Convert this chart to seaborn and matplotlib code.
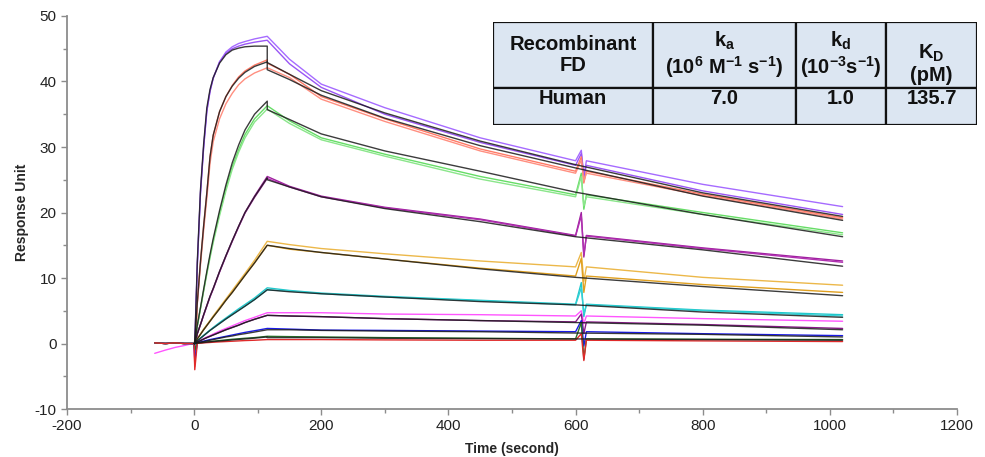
import numpy as np
import pandas as pd
import matplotlib
matplotlib.use("Agg")
import matplotlib.pyplot as plt
import seaborn as sns
from matplotlib.ticker import MultipleLocator
from matplotlib.patches import Rectangle

# ---------------- data ----------------
T_PRE = [-62, -45, -30, -15, -2]
T_ASSOC = [0, 1, 5, 10, 15, 20, 25, 30, 40, 50, 60, 70, 80, 95, 115]
T_DISS = [115, 150, 200, 300, 450, 600, 800, 1020]
T_SPIKE = [609, 613, 617]

violet_a_assoc = [0, -0.5, 12, 23, 30, 35.5, 38.5, 40.5, 43.0, 44.5, 45.3, 45.8, 46.1, 46.5, 46.9]
violet_a_diss = [46.9, 43.4, 39.6, 36.0, 31.4, 27.9, 24.3, 20.9]
violet_b_assoc = [0, -0.5, 12, 23, 30, 35.5, 38.5, 40.5, 43.0, 44.3, 45.0, 45.4, 45.7, 46.0, 46.3]
violet_b_diss = [46.3, 42.7, 39.1, 35.0, 30.7, 27.2, 23.3, 19.7]
violet_fit_assoc = [0, 0, 12.5, 23.5, 30.5, 36.0, 38.8, 40.6, 42.8, 44.1, 44.8, 45.1, 45.3, 45.4, 45.4]
violet_fit_diss = [42.9, 41.1, 38.6, 35.2, 30.9, 27.3, 23.0, 19.4]

red_a_assoc = [0, -3.5, 6.3, 12.5, 18, 23, 28.5, 31.8, 35.4, 37.7, 39.4, 40.7, 41.6, 42.5, 43.3]
red_a_diss = [42.8, 41.1, 37.7, 34.3, 29.7, 26.3, 22.8, 19.2]
red_b_assoc = [0, -3, 6.0, 12.0, 17.3, 22.2, 27.5, 30.8, 34.3, 36.6, 38.2, 39.5, 40.4, 41.3, 42.1]
red_b_diss = [42.1, 40.6, 37.3, 33.9, 29.4, 26.0, 22.6, 19.0]
red_fit_assoc = [0, 0, 6.3, 12.5, 18, 23, 28.5, 31.8, 35.4, 37.7, 39.3, 40.5, 41.4, 42.3, 43.0]
red_fit_diss = [41.8, 40.3, 37.9, 34.4, 30.2, 26.8, 22.5, 18.8]

green_a_assoc = [0, -1, 2.7, 5.4, 8.1, 10.8, 13.3, 15.7, 19.9, 23.7, 27.0, 29.6, 31.9, 34.3, 36.3]
green_a_diss = [36.3, 34.0, 31.4, 28.9, 25.5, 22.7, 20.0, 16.9]
green_b_assoc = [0, -1, 2.6, 5.3, 8.0, 10.6, 13.1, 15.4, 19.5, 23.3, 26.6, 29.2, 31.4, 33.8, 35.8]
green_b_diss = [35.8, 33.6, 31.1, 28.6, 25.1, 22.4, 19.7, 16.6]
green_fit_assoc = [0, 0, 2.8, 5.5, 8.3, 11.0, 13.6, 16.0, 20.3, 24.2, 27.6, 30.3, 32.6, 35.0, 37.0]
green_fit_diss = [35.7, 34.2, 32.0, 29.4, 26.3, 23.1, 19.7, 16.3]

magenta_a_assoc = [0, -1, 1.5, 2.9, 4.4, 5.8, 7.2, 8.4, 11.0, 13.4, 15.7, 17.9, 20.0, 22.5, 25.5]
magenta_a_diss = [25.5, 24.0, 22.5, 20.8, 19.0, 16.5, 14.6, 12.6]
magenta_b_assoc = [0, -1.5, 1.5, 2.9, 4.3, 5.7, 7.1, 8.3, 10.9, 13.3, 15.6, 17.8, 19.9, 22.3, 25.2]
magenta_b_diss = [25.2, 23.9, 22.4, 20.7, 18.9, 16.4, 14.5, 12.4]
magenta_fit_assoc = [0, 0, 1.5, 2.9, 4.4, 5.8, 7.2, 8.4, 11.0, 13.4, 15.7, 17.9, 20.0, 22.4, 25.3]
magenta_fit_diss = [25.0, 23.9, 22.4, 20.6, 18.6, 16.3, 14.3, 11.8]

orange_a_assoc = [0, 0.5, 0.7, 1.45, 2.2, 2.85, 3.5, 4.2, 5.5, 6.8, 8.1, 9.4, 10.7, 12.7, 15.6]
orange_a_diss = [15.6, 15.1, 14.5, 13.7, 12.6, 11.7, 10.1, 8.9]
orange_b_assoc = [0, 0.3, 0.7, 1.4, 2.1, 2.75, 3.4, 4.05, 5.3, 6.6, 7.8, 9.1, 10.4, 12.3, 15.0]
orange_b_diss = [15.0, 14.4, 13.9, 12.9, 11.5, 10.3, 9.0, 7.8]
orange_fit_assoc = [0, 0, 0.7, 1.4, 2.1, 2.75, 3.4, 4.05, 5.3, 6.6, 7.8, 9.1, 10.4, 12.3, 15.0]
orange_fit_diss = [15.0, 14.5, 13.9, 12.9, 11.4, 10.1, 8.7, 7.3]

cyan_a_assoc = [0, -1, 0.42, 0.84, 1.25, 1.65, 2.05, 2.45, 3.2, 3.9, 4.6, 5.3, 5.95, 6.95, 8.5]
cyan_a_diss = [8.5, 8.1, 7.7, 7.2, 6.6, 6.0, 5.1, 4.4]
cyan_b_assoc = [0, -1, 0.4, 0.8, 1.2, 1.6, 2.0, 2.35, 3.05, 3.75, 4.4, 5.05, 5.7, 6.7, 8.2]
cyan_b_diss = [8.2, 8.0, 7.6, 7.1, 6.5, 5.9, 5.0, 4.2]
cyan_fit_assoc = [0, 0, 0.4, 0.8, 1.2, 1.6, 2.0, 2.35, 3.05, 3.75, 4.4, 5.05, 5.7, 6.7, 8.2]
cyan_fit_diss = [8.2, 7.9, 7.6, 7.1, 6.4, 5.9, 4.8, 4.0]

pink_pre = [-1.5, -1.0, -0.6, -0.3, 0]
pink_assoc = [0, -3, 0.25, 0.5, 0.75, 1.0, 1.2, 1.45, 1.9, 2.3, 2.7, 3.1, 3.5, 4.0, 4.7]
pink_diss = [4.7, 4.7, 4.7, 4.5, 4.4, 4.2, 3.8, 3.4]
dpurple_assoc = [0, -1, 0.22, 0.45, 0.68, 0.9, 1.1, 1.3, 1.7, 2.1, 2.45, 2.8, 3.2, 3.7, 4.3]
dpurple_diss = [4.3, 4.2, 4.1, 3.8, 3.5, 3.3, 2.9, 2.3]
low4_fit_assoc = [0, 0, 0.22, 0.45, 0.68, 0.9, 1.1, 1.3, 1.7, 2.1, 2.45, 2.8, 3.2, 3.7, 4.3]
low4_fit_diss = [4.3, 4.2, 4.1, 3.8, 3.5, 3.2, 2.8, 2.1]

blue_assoc = [0, -2.5, 0.12, 0.24, 0.36, 0.48, 0.6, 0.7, 0.9, 1.1, 1.3, 1.5, 1.7, 1.95, 2.3]
blue_diss = [2.3, 2.2, 2.05, 2.0, 1.9, 1.8, 1.5, 1.2]
blue_fit_assoc = [0, 0, 0.1, 0.2, 0.3, 0.4, 0.5, 0.6, 0.8, 1.0, 1.15, 1.35, 1.5, 1.75, 2.1]
blue_fit_diss = [2.1, 2.1, 2.0, 1.9, 1.8, 1.6, 1.4, 1.0]

dgreen_assoc = [0, -1, 0.06, 0.12, 0.18, 0.24, 0.3, 0.35, 0.45, 0.55, 0.65, 0.72, 0.8, 0.9, 1.1]
dgreen_diss = [1.1, 1.05, 1.0, 0.9, 0.8, 0.7, 0.65, 0.6]
red2_assoc = [0, -4, 0.03, 0.06, 0.1, 0.13, 0.16, 0.2, 0.25, 0.3, 0.35, 0.4, 0.45, 0.5, 0.6]
red2_diss = [0.6, 0.6, 0.6, 0.55, 0.5, 0.5, 0.4, 0.3]
low_fit_assoc = [0, 0, 0.05, 0.1, 0.15, 0.2, 0.25, 0.3, 0.38, 0.46, 0.55, 0.63, 0.7, 0.82, 1.0]
low_fit_diss = [0.9, 0.9, 0.9, 0.8, 0.75, 0.7, 0.6, 0.5]

flat_pre = [0.1, 0.0, 0.1, 0.0, 0]

# spike (high, low) near t = 610 s for each measured trace
spikes = {
    "violet_a": (29.5, 25.5), "violet_b": (29.0, 25.5),
    "red_a": (28.5, 24.5), "red_b": (28.0, 24.8),
    "green_a": (26.0, 20.5), "green_b": (25.5, 21.0),
    "magenta_a": (20.0, 13.2), "magenta_b": (19.5, 13.5),
    "orange_a": (13.9, 9.5), "orange_b": (13.0, 7.8),
    "cyan_a": (9.3, 4.1), "cyan_b": (8.5, 4.5),
    "pink": (5.0, 3.0), "dpurple": (4.5, 1.5),
    "blue": (3.5, -0.4), "dgreen": (3.2, -2.4), "red2": (1.5, -2.6),
}

colors = {
    "violet_a": "#a66bff", "violet_b": "#9a55f5",
    "red_a": "#ff7a66", "red_b": "#ff8f80",
    "green_a": "#66dd66", "green_b": "#8be68b",
    "magenta_a": "#a020a0", "magenta_b": "#b030b0",
    "orange_a": "#ecb84a", "orange_b": "#e0a020",
    "cyan_a": "#22c8cc", "cyan_b": "#33d0d4",
    "pink": "#ff55ff", "dpurple": "#8a1a8a",
    "blue": "#1a1ae6", "dgreen": "#2a6e2a", "red2": "#e02a2a",
}

data_traces = {
    "violet_a": (flat_pre, violet_a_assoc, violet_a_diss),
    "violet_b": (flat_pre, violet_b_assoc, violet_b_diss),
    "red_a": (flat_pre, red_a_assoc, red_a_diss),
    "red_b": (flat_pre, red_b_assoc, red_b_diss),
    "green_a": (flat_pre, green_a_assoc, green_a_diss),
    "green_b": (flat_pre, green_b_assoc, green_b_diss),
    "magenta_a": (flat_pre, magenta_a_assoc, magenta_a_diss),
    "magenta_b": (flat_pre, magenta_b_assoc, magenta_b_diss),
    "orange_a": (flat_pre, orange_a_assoc, orange_a_diss),
    "orange_b": (flat_pre, orange_b_assoc, orange_b_diss),
    "cyan_a": (flat_pre, cyan_a_assoc, cyan_a_diss),
    "cyan_b": (flat_pre, cyan_b_assoc, cyan_b_diss),
    "pink": (pink_pre, pink_assoc, pink_diss),
    "dpurple": (flat_pre, dpurple_assoc, dpurple_diss),
    "blue": (flat_pre, blue_assoc, blue_diss),
    "dgreen": (flat_pre, dgreen_assoc, dgreen_diss),
    "red2": (flat_pre, red2_assoc, red2_diss),
}

fit_traces = {
    "violet_fit": (violet_fit_assoc, violet_fit_diss),
    "red_fit": (red_fit_assoc, red_fit_diss),
    "green_fit": (green_fit_assoc, green_fit_diss),
    "magenta_fit": (magenta_fit_assoc, magenta_fit_diss),
    "orange_fit": (orange_fit_assoc, orange_fit_diss),
    "cyan_fit": (cyan_fit_assoc, cyan_fit_diss),
    "low4_fit": (low4_fit_assoc, low4_fit_diss),
    "blue_fit": (blue_fit_assoc, blue_fit_diss),
    "low_fit": (low_fit_assoc, low_fit_diss),
}

# ---------------- build long tables ----------------
rows = []
for name, (pre, assoc, diss) in data_traces.items():
    hi, lo = spikes[name]
    ts = list(T_PRE) + list(T_ASSOC) + list(T_DISS[:6]) + list(T_SPIKE) + list(T_DISS[6:])
    vs = list(pre) + list(assoc) + list(diss[:6]) + [hi, lo, diss[5]] + list(diss[6:])
    for t, v in zip(ts, vs):
        rows.append((name, t, v))
df_data = pd.DataFrame(rows, columns=["trace", "t", "ru"])

rows = []
for name, (assoc, diss) in fit_traces.items():
    ts = list(T_ASSOC) + list(T_DISS)
    vs = list(assoc) + list(diss)
    for t, v in zip(ts, vs):
        rows.append((name, t, v))
df_fit = pd.DataFrame(rows, columns=["trace", "t", "ru"])

# ---------------- plot ----------------
sns.set_theme(style="white")
plt.rcParams["font.family"] = ["Liberation Sans", "DejaVu Sans"]
plt.rcParams["axes.unicode_minus"] = False
plt.rcParams["mathtext.fontset"] = "custom"
plt.rcParams["mathtext.bf"] = "Liberation Sans:bold"
plt.rcParams["mathtext.rm"] = "Liberation Sans:bold"
plt.rcParams["mathtext.default"] = "bf"

fig = plt.figure(figsize=(9.85, 4.57), dpi=100)
ax = fig.add_axes([0.068, 0.105, 0.9036, 0.86])

sns.lineplot(data=df_data, x="t", y="ru", hue="trace", palette=colors,
             hue_order=list(data_traces.keys()), estimator=None, sort=False,
             legend=False, linewidth=1.0, ax=ax)
sns.lineplot(data=df_fit, x="t", y="ru", units="trace", color="#1a1a1a",
             estimator=None, sort=False, legend=False, linewidth=1.0,
             alpha=0.85, ax=ax)

ax.set_xlim(-200, 1200)
ax.set_ylim(-10, 50)
ax.xaxis.set_major_locator(MultipleLocator(200))
ax.xaxis.set_minor_locator(MultipleLocator(100))
ax.yaxis.set_major_locator(MultipleLocator(10))
ax.yaxis.set_minor_locator(MultipleLocator(5))
for s in ["top", "right"]:
    ax.spines[s].set_visible(False)
for s in ["left", "bottom"]:
    ax.spines[s].set_color("#8c8c8c")
    ax.spines[s].set_linewidth(1.3)
ax.tick_params(which="major", direction="out", length=4, width=1, color="#8c8c8c",
               labelsize=11, labelcolor="#222222", bottom=True, left=True)
ax.tick_params(which="minor", direction="out", length=3, width=1, color="#8c8c8c",
               bottom=True, left=True)
ax.set_xlabel("Time (second)", fontsize=10, fontweight="bold", labelpad=6)
ax.set_ylabel("Response Unit", fontsize=10, fontweight="bold", labelpad=4)

# ---------------- table ----------------
col_px = [160, 143, 90, 91]
row_px = [66, 37]
tab = fig.add_axes([493 / 985, 1 - 125 / 457, 484 / 985, 103 / 457])
tab.set_xlim(0, sum(col_px))
tab.set_ylim(sum(row_px), 0)
tab.axis("off")
header = ["Recombinant\nFD", "k$_{a}$\n(10$^{6}$ M$^{-1}$ s$^{-1}$)",
          "k$_{d}$\n(10$^{-3}$s$^{-1}$)", "K$_{D}$\n(pM)"]
values = ["Human", "7.0", "1.0", "135.7"]
head_dy = [0, 0, 0, 9]
x0 = 0
for j, w in enumerate(col_px):
    y0 = 0
    for i, h in enumerate(row_px):
        tab.add_patch(Rectangle((x0, y0), w, h, facecolor="#dce6f2",
                                edgecolor="#111111", linewidth=1.6))
        if i == 0:
            tab.text(x0 + w / 2, y0 + h / 2 + head_dy[j], header[j],
                     ha="center", va="center", fontsize=14.5, fontweight="bold",
                     linespacing=1.1, color="#111111")
        else:
            tab.text(x0 + w / 2, y0 + 11, values[j],
                     ha="center", va="center", fontsize=14.5, fontweight="bold",
                     color="#111111")
        y0 += h
    x0 += w

fig.savefig("out.png", dpi=100)
